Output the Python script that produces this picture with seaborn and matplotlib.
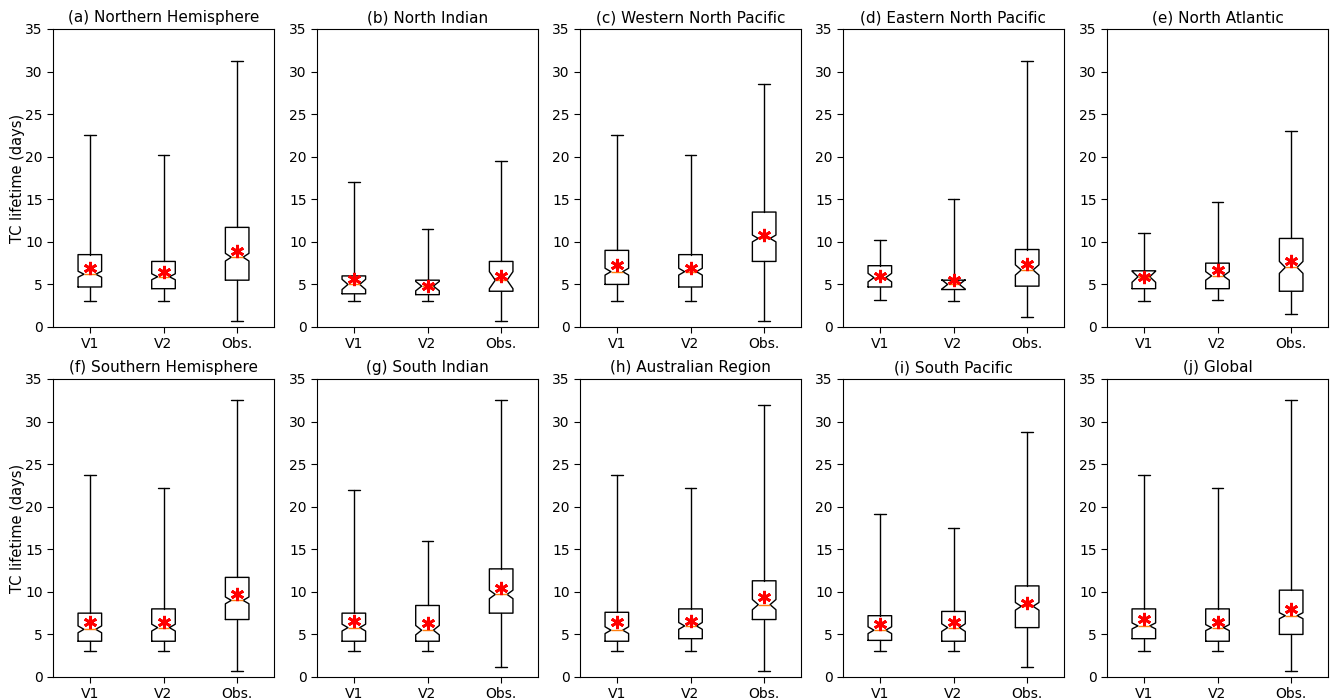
import matplotlib
matplotlib.use("Agg")
import matplotlib.pyplot as plt
import seaborn as sns
import numpy as np

sns.set_style("ticks")
plt.rcParams['font.family'] = ['DejaVu Sans']
plt.rcParams.update({"text.color": "black", "axes.labelcolor": "black",
                     "xtick.color": "black", "ytick.color": "black"})

categories = ["V1", "V2", "Obs."]
titles = ["(a) Northern Hemisphere", "(b) North Indian", "(c) Western North Pacific",
          "(d) Eastern North Pacific", "(e) North Atlantic",
          "(f) Southern Hemisphere", "(g) South Indian", "(h) Australian Region",
          "(i) South Pacific", "(j) Global"]

# per panel: values for [V1, V2, Obs.]
whislo = [[3.0, 3.0, 0.7], [3.0, 3.0, 0.7], [3.0, 3.0, 0.7], [3.2, 3.0, 1.2], [3.0, 3.2, 1.5],
          [3.0, 3.0, 0.7], [3.0, 3.0, 1.2], [3.0, 3.0, 0.7], [3.0, 3.0, 1.2], [3.0, 3.0, 0.7]]
q1 = [[4.7, 4.5, 5.5], [3.9, 3.8, 4.2], [5.0, 4.7, 7.7], [4.7, 4.4, 4.8], [4.5, 4.5, 4.2],
      [4.2, 4.2, 6.75], [4.2, 4.2, 7.5], [4.2, 4.5, 6.75], [4.3, 4.2, 5.8], [4.5, 4.2, 5.0]]
med = [[6.2, 5.9, 8.2], [5.0, 4.8, 5.5], [6.5, 6.5, 10.4], [5.8, 5.0, 6.7], [5.9, 6.0, 7.0],
       [5.6, 5.8, 9.0], [5.8, 5.5, 9.7], [5.5, 6.0, 8.5], [5.5, 5.8, 8.3], [6.0, 5.8, 7.2]]
q3 = [[8.5, 7.7, 11.7], [6.0, 5.5, 7.7], [9.0, 8.5, 13.5], [7.2, 5.5, 9.1], [6.6, 7.5, 10.4],
      [7.5, 8.0, 11.7], [7.5, 8.4, 12.7], [7.6, 8.0, 11.3], [7.2, 7.7, 10.7], [8.0, 8.0, 10.2]]
whishi = [[22.5, 20.2, 31.2], [17.0, 11.5, 19.5], [22.5, 20.2, 28.5], [10.2, 15.0, 31.2], [11.0, 14.7, 23.0],
          [23.7, 22.2, 32.5], [22.0, 16.0, 32.5], [23.7, 22.2, 32.0], [19.2, 17.5, 28.8], [23.7, 22.2, 32.5]]
means = [[6.9, 6.5, 8.9], [5.6, 4.8, 6.0], [7.3, 6.9, 10.8], [6.0, 5.5, 7.4], [5.9, 6.7, 7.8],
         [6.5, 6.5, 9.7], [6.6, 6.4, 10.4], [6.5, 6.6, 9.4], [6.2, 6.5, 8.7], [6.8, 6.5, 8.0]]
notch_half = [[0.35, 0.35, 0.45], [0.6, 0.55, 1.0], [0.4, 0.4, 0.4], [0.5, 0.55, 0.6], [0.65, 0.5, 0.7],
              [0.4, 0.4, 0.4], [0.4, 0.55, 0.5], [0.4, 0.4, 0.6], [0.4, 0.45, 0.45], [0.35, 0.35, 0.35]]

fig = plt.figure(figsize=(13.3, 6.99), dpi=100)
W, H = 1330.0, 699.0
lefts = [53, 317, 580, 843, 1107]
aw = 221
tops = [29, 379]
ah = 298

for k in range(10):
    r, c = divmod(k, 5)
    ax = fig.add_axes([lefts[c] / W, 1 - (tops[r] + ah) / H, aw / W, ah / H])
    stats = []
    for j, cat in enumerate(categories):
        stats.append(dict(label=cat, whislo=whislo[k][j], q1=q1[k][j], med=med[k][j],
                          q3=q3[k][j], whishi=whishi[k][j], mean=means[k][j],
                          cilo=med[k][j] - notch_half[k][j], cihi=med[k][j] + notch_half[k][j],
                          fliers=[]))
    ax.bxp(stats, showmeans=True, shownotches=True, widths=0.32,
           boxprops=dict(color="black", linewidth=1.0),
           whiskerprops=dict(color="black", linewidth=1.0),
           capprops=dict(color="black", linewidth=1.0),
           medianprops=dict(color="#ff7f0e", linewidth=1.0),
           meanprops=dict(marker=(6, 2, 0), markeredgecolor="red", markerfacecolor="red",
                          markersize=9.5, markeredgewidth=2.0, linestyle="none"))
    ax.set_xlim(0.5, 3.5)
    ax.set_ylim(0, 35)
    ax.set_yticks(np.arange(0, 36, 5))
    ax.set_title(titles[k], fontsize=11, pad=5, color="black")
    ax.tick_params(axis="both", labelsize=10, length=4, width=0.8, color="black",
                   labelcolor="black")
    for sp in ax.spines.values():
        sp.set_linewidth(0.8)
        sp.set_color("black")
    if c == 0:
        ax.set_ylabel("TC lifetime (days)", fontsize=10.5, color="black")
        ax.yaxis.set_label_coords(-0.127, 0.5)

fig.savefig("out.png", dpi=100)
